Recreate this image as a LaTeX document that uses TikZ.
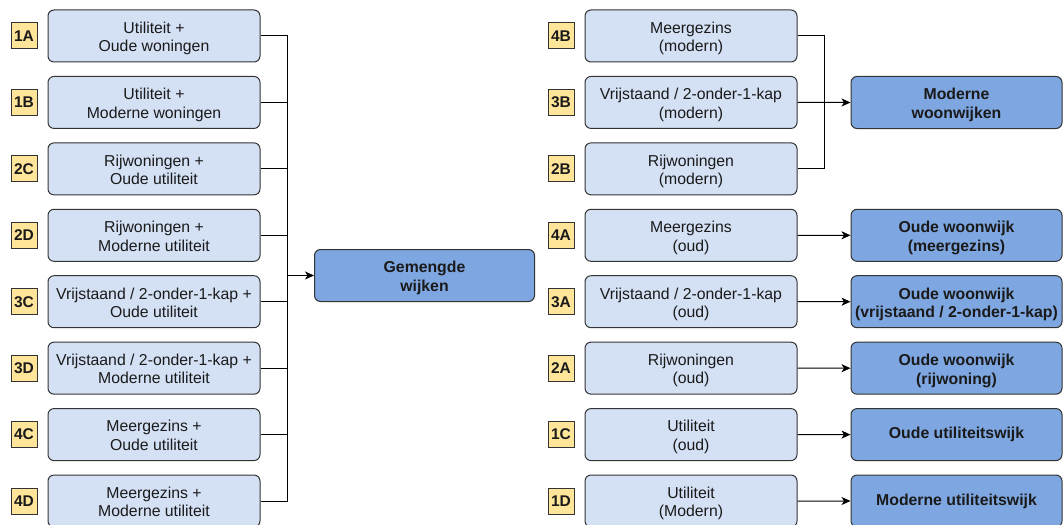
\documentclass[tikz,border=0pt]{standalone}
\usepackage{fontspec}
\setmainfont{Liberation Sans}
\usetikzlibrary{arrows.meta}
\definecolor{srcfill}{HTML}{D4E1F5}
\definecolor{dstfill}{HTML}{7EA6E0}
\definecolor{tagfill}{HTML}{FFE599}
\definecolor{edge}{HTML}{333333}
\definecolor{txt}{HTML}{1A1A1A}
\newcommand{\twolines}[2]{\rule{0pt}{18.1pt}#1\\#2\rule[-5pt]{0pt}{5pt}}
\tikzset{
  srcbox/.style={draw=edge, fill=srcfill, line width=1pt, rounded corners=6pt,
    minimum width=212pt, minimum height=52pt, align=center, inner sep=0pt,
    font=\fontsize{15.8}{18.5}\selectfont, text=txt},
  dstbox/.style={draw=edge, fill=dstfill, line width=1pt, rounded corners=6pt,
    minimum height=52pt, align=center, inner sep=0pt,
    font=\fontsize{15.8}{18.5}\selectfont\bfseries, text=txt},
  tag/.style={draw=edge, fill=tagfill, line width=1pt, minimum width=26pt, minimum height=26pt,
    inner sep=0pt, font=\fontsize{15.5}{17}\selectfont\bfseries, text=txt},
  conn/.style={draw=black, line width=1pt},
  arr/.style={conn, -{Stealth[length=9pt,width=8pt,inset=2.5pt]}}
}
\begin{document}
\begin{tikzpicture}[x=1pt,y=-1pt]
\useasboundingbox (0,0) rectangle (1064,524);
% left column
\foreach \t/\a/\b/\i in {1A/{Utiliteit +}/{Oude woningen}/0,
                          1B/{Utiliteit +}/{Moderne woningen}/1,
                          2C/{Rijwoningen +}/{Oude utiliteit}/2,
                          2D/{Rijwoningen +}/{Moderne utiliteit}/3,
                          3C/{Vrijstaand / 2-onder-1-kap +}/{Oude utiliteit}/4,
                          3D/{Vrijstaand / 2-onder-1-kap +}/{Moderne utiliteit}/5,
                          4C/{Meergezins +}/{Oude utiliteit}/6,
                          4D/{Meergezins +}/{Moderne utiliteit}/7}{
  \node[srcbox] (L\t) at (154,36+66.43*\i) {\twolines{\a}{\b}};
  \node[tag] (tL\t) at (24,36+66.43*\i) {\t};
}
% right column
\foreach \t/\a/\b/\i in {4B/{Meergezins}/{(modern)}/0,
                          3B/{Vrijstaand / 2-onder-1-kap}/{(modern)}/1,
                          2B/{Rijwoningen}/{(modern)}/2,
                          4A/{Meergezins}/{(oud)}/3,
                          3A/{Vrijstaand / 2-onder-1-kap}/{(oud)}/4,
                          2A/{Rijwoningen}/{(oud)}/5,
                          1C/{Utiliteit}/{(oud)}/6,
                          1D/{Utiliteit}/{(Modern)}/7}{
  \node[srcbox] (R\t) at (691,36+66.43*\i) {\twolines{\a}{\b}};
  \node[tag] (tR\t) at (561,36+66.43*\i) {\t};
}
% targets
\node[dstbox, minimum width=220pt] (gem) at (424.5,275.5) {\twolines{Gemengde}{wijken}};
\node[dstbox, minimum width=211pt] (mod) at (956.5,102.5) {\twolines{Moderne}{woonwijken}};
\node[dstbox, minimum width=211pt] (d4A) at (956.5,235.3) {\twolines{Oude woonwijk}{(meergezins)}};
\node[dstbox, minimum width=211pt] (d3A) at (956.5,301.7) {\twolines{Oude woonwijk}{(vrijstaand / 2-onder-1-kap)}};
\node[dstbox, minimum width=211pt] (d2A) at (956.5,368.2) {\twolines{Oude woonwijk}{(rijwoning)}};
\node[dstbox, minimum width=211pt] (d1C) at (956.5,434.6) {Oude utiliteitswijk};
\node[dstbox, minimum width=211pt] (d1D) at (956.5,501) {Moderne utiliteitswijk};
% buses
\coordinate (busL) at (287,275.5);
\coordinate (busR) at (824,102.5);
\foreach \t in {1A,1B,2C,2D,3C,3D,4C,4D}{
  \draw[conn] (L\t.east) -| (busL);
}
\draw[arr] (busL) -- (gem.west);
\draw[conn] (R4B.east) -| (busR);
\draw[conn] (R2B.east) -| (busR);
\draw[arr] (R3B.east) -- (mod.west);
\draw[arr] (R4A.east) -- (d4A.west);
\draw[arr] (R3A.east) -- (d3A.west);
\draw[arr] (R2A.east) -- (d2A.west);
\draw[arr] (R1C.east) -- (d1C.west);
\draw[arr] (R1D.east) -- (d1D.west);
\end{tikzpicture}
\end{document}
